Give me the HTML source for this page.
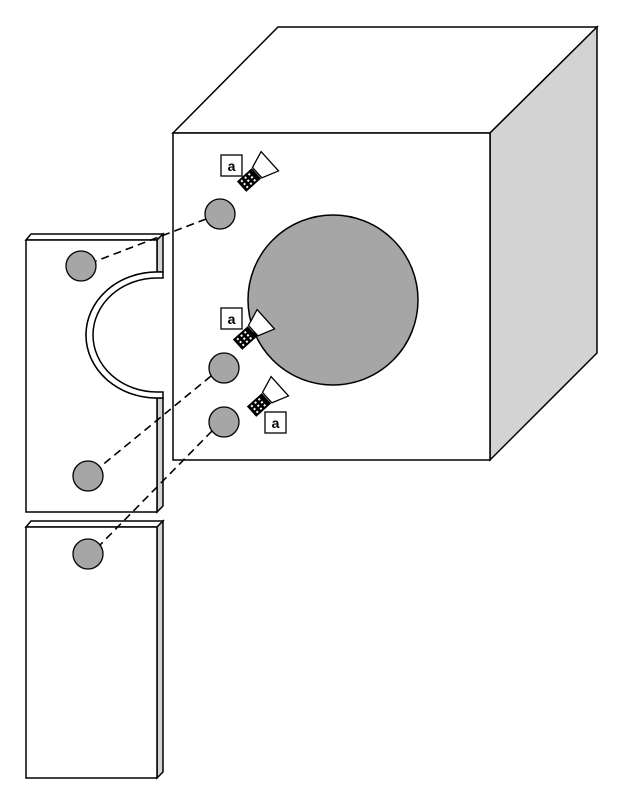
<!DOCTYPE html>
<html><head><style>body{margin:0;background:#fff}svg{display:block}</style></head>
<body>
<svg width="623" height="800" viewBox="0 0 623 800" xmlns="http://www.w3.org/2000/svg">
<defs>
<g id="scr">
  <rect x="-10" y="-7" width="20" height="14" fill="#000"/>
  <g fill="#fff">
    <rect x="-7" y="-5" width="2" height="2"/><rect x="-2" y="-5" width="2" height="2"/><rect x="3" y="-5" width="2" height="2"/>
    <rect x="-7" y="-1" width="2" height="2"/><rect x="-2" y="-1" width="2" height="2"/><rect x="3" y="-1" width="2" height="2"/>
    <rect x="-7" y="3" width="2" height="2"/><rect x="-2" y="3" width="2" height="2"/><rect x="3" y="3" width="2" height="2"/>
  </g>
  <polygon points="11,-7 28,-13 28,13 11,7" fill="#fff" stroke="#000" stroke-width="1.3"/>
</g>
</defs>
<g stroke="#000" stroke-width="1.5">
  <!-- cube -->
  <polygon points="173,133 278,27 597,27 490,133" fill="#fff"/>
  <polygon points="490,133 597,27 597,353 490,460" fill="#d3d3d3"/>
  <rect x="173" y="133" width="317" height="327" fill="#fff"/>
  <circle cx="333" cy="300" r="85" fill="#a6a6a6"/>

  <!-- left plate -->
  <polygon points="26,240 31,234 163,234 157,240" fill="#fff"/>
  <polygon points="157,240 163,234 163,272 157,272" fill="#d3d3d3"/>
  <polygon points="157,398 163,398 163,506 157,512" fill="#d3d3d3"/>
  <path d="M26,240 H157 V272 A71,63 0 0 0 157,398 V512 H26 Z" fill="#fff"/>
  <path d="M163,272 L157,272 A71,63 0 0 0 157,398 L163,398 L163,392 L157,392 A64,57 0 0 1 157,278 L163,278 Z" fill="#fff"/>
  <!-- bottom plate -->
  <polygon points="26,527 31,521 163,521 157,527" fill="#fff"/>
  <polygon points="157,527 163,521 163,772 157,778" fill="#d3d3d3"/>
  <rect x="26" y="527" width="131" height="251" fill="#fff"/>
</g>
<g stroke="#000" stroke-width="1.6" stroke-dasharray="8,5" fill="none">
  <line x1="206" y1="219" x2="96" y2="261"/>
  <line x1="211" y1="376" x2="100" y2="467"/>
  <line x1="212" y1="431" x2="100" y2="545"/>
</g>
<g fill="#a6a6a6" stroke="#000" stroke-width="1.3">
  <circle cx="220" cy="214" r="15"/>
  <circle cx="81" cy="266" r="15"/>
  <circle cx="224" cy="368" r="15"/>
  <circle cx="88" cy="476" r="15"/>
  <circle cx="224" cy="422" r="15"/>
  <circle cx="88" cy="554" r="15"/>
</g>
<use href="#scr" transform="translate(249,180) rotate(-42)"/>
<use href="#scr" transform="translate(245,338) rotate(-42)"/>
<use href="#scr" transform="translate(259,405) rotate(-42)"/>
<g fill="#fff" stroke="#000" stroke-width="1.3">
  <rect x="221" y="155" width="21" height="21"/>
  <rect x="221" y="308" width="21" height="21"/>
  <rect x="265" y="412" width="21" height="21"/>
</g>
<g font-family="Liberation Sans, sans-serif" font-weight="bold" font-size="14" text-anchor="middle">
  <text x="231.5" y="171">a</text>
  <text x="231.5" y="324">a</text>
  <text x="275.5" y="428">a</text>
</g>
</svg>
</body></html>
